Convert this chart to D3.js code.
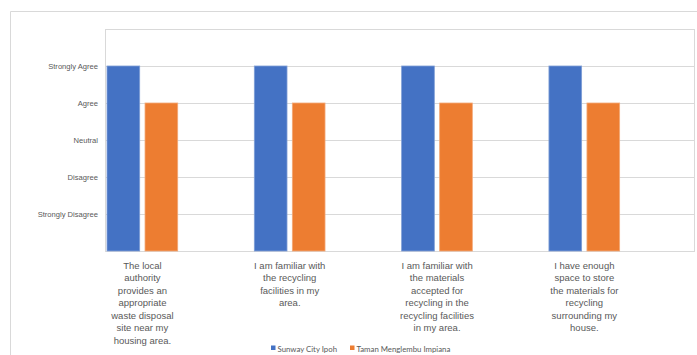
<!DOCTYPE html>
<html>
<head>
    <meta charset="utf-8">
    <script src="https://d3js.org/d3.v7.min.js"></script>
    <style>
        body { margin: 0; background: #fff; }
        svg { display: block; font-family: Lato, "Open Sans", sans-serif; }
    </style>
</head>
<body>
    <svg width="697" height="355"></svg>
    <script>
        // data
        const categories = [
            ["The local", "authority", "provides an", "appropriate", "waste disposal", "site near my", "housing area."],
            ["I am familiar with", "the recycling", "facilities in my", "area."],
            ["I am familiar with", "the materials", "accepted for", "recycling in the", "recycling facilities", "in my area."],
            ["I have enough", "space to store", "the materials for", "recycling", "surrounding my", "house."]
        ];
        const seriesNames = ["Sunway City Ipoh", "Taman Menglembu Impiana"];
        const sunway = [5, 5, 5, 5];
        const taman = [4, 4, 4, 4];
        const levelLabels = ["Strongly Disagree", "Disagree", "Neutral", "Agree", "Strongly Agree"];
        const colors = ["#4472C4", "#ED7D31"];

        const svg = d3.select("svg");
        const plot = { left: 105, right: 694, top: 29, bottom: 251 };

        // outer chart frame
        svg.append("path")
            .attr("d", "M10.5,355 V11.5 H697")
            .attr("fill", "none")
            .attr("stroke", "#d9d9d9");

        const y = d3.scaleLinear().domain([0, 6]).range([plot.bottom, plot.top]);
        const idx = categories.map((d, i) => i);
        const x = d3.scaleBand().domain(idx).range([68.75, 658]);
        const xs = d3.scaleBand().domain([0, 1]).range([-35.4, 35.3]).paddingInner(0.14);

        // grid + y labels
        const yAxis = svg.append("g")
            .attr("transform", `translate(${plot.left},0)`)
            .call(d3.axisLeft(y)
                .tickValues([1, 2, 3, 4, 5])
                .tickFormat(d => levelLabels[d - 1])
                .tickSize(-(plot.right - plot.left))
                .tickPadding(7));
        yAxis.select(".domain").remove();
        yAxis.selectAll(".tick line").attr("stroke", "#d9d9d9");
        yAxis.selectAll(".tick text")
            .style("fill", "#595959")
            .style("font-size", "7.6px");

        // plot area border
        svg.append("rect")
            .attr("x", plot.left + 0.5).attr("y", plot.top + 0.5)
            .attr("width", plot.right - plot.left).attr("height", plot.bottom - plot.top)
            .attr("fill", "none")
            .attr("stroke", "#d9d9d9");

        // bars
        const series = [sunway, taman];
        series.forEach((vals, s) => {
            svg.append("g")
                .selectAll("rect")
                .data(vals)
                .join("rect")
                .attr("x", (d, i) => x(i) + x.bandwidth() / 2 + xs(s))
                .attr("y", d => y(d))
                .attr("width", xs.bandwidth())
                .attr("height", d => y(0) - y(d))
                .attr("fill", colors[s])
                .attr("stroke", s === 0 ? "#7f9ed6" : "#f3a978")
                .attr("stroke-width", 0.8);
        });

        // category labels
        const xAxis = svg.append("g")
            .attr("transform", `translate(0,${plot.bottom})`)
            .call(d3.axisBottom(x).tickSize(0).tickFormat(""));
        xAxis.select(".domain").remove();
        xAxis.selectAll(".tick").each(function (d) {
            const t = d3.select(this).select("text")
                .style("fill", "#595959")
                .attr("y", 0)
                .attr("dy", null)
                .style("font-size", "9.5px");
            categories[d].forEach((line, k) => {
                t.append("tspan")
                    .attr("x", 0)
                    .attr("y", 17.5 + k * 12.5)
                    .text(line);
            });
        });

        // legend
        const legend = svg.append("g").attr("transform", "translate(271,349)");
        const legX = [0, 79];
        seriesNames.forEach((name, s) => {
            const g = legend.append("g").attr("transform", `translate(${legX[s]},0)`);
            g.append("rect").attr("x", 0).attr("y", -3.5).attr("width", 4.5).attr("height", 4.5).attr("fill", colors[s]);
            g.append("text").attr("x", 6.5).attr("y", 2.5)
                .style("fill", "#595959")
                .style("font-size", "7.8px")
                .text(name);
        });
    </script>
</body>
</html>
